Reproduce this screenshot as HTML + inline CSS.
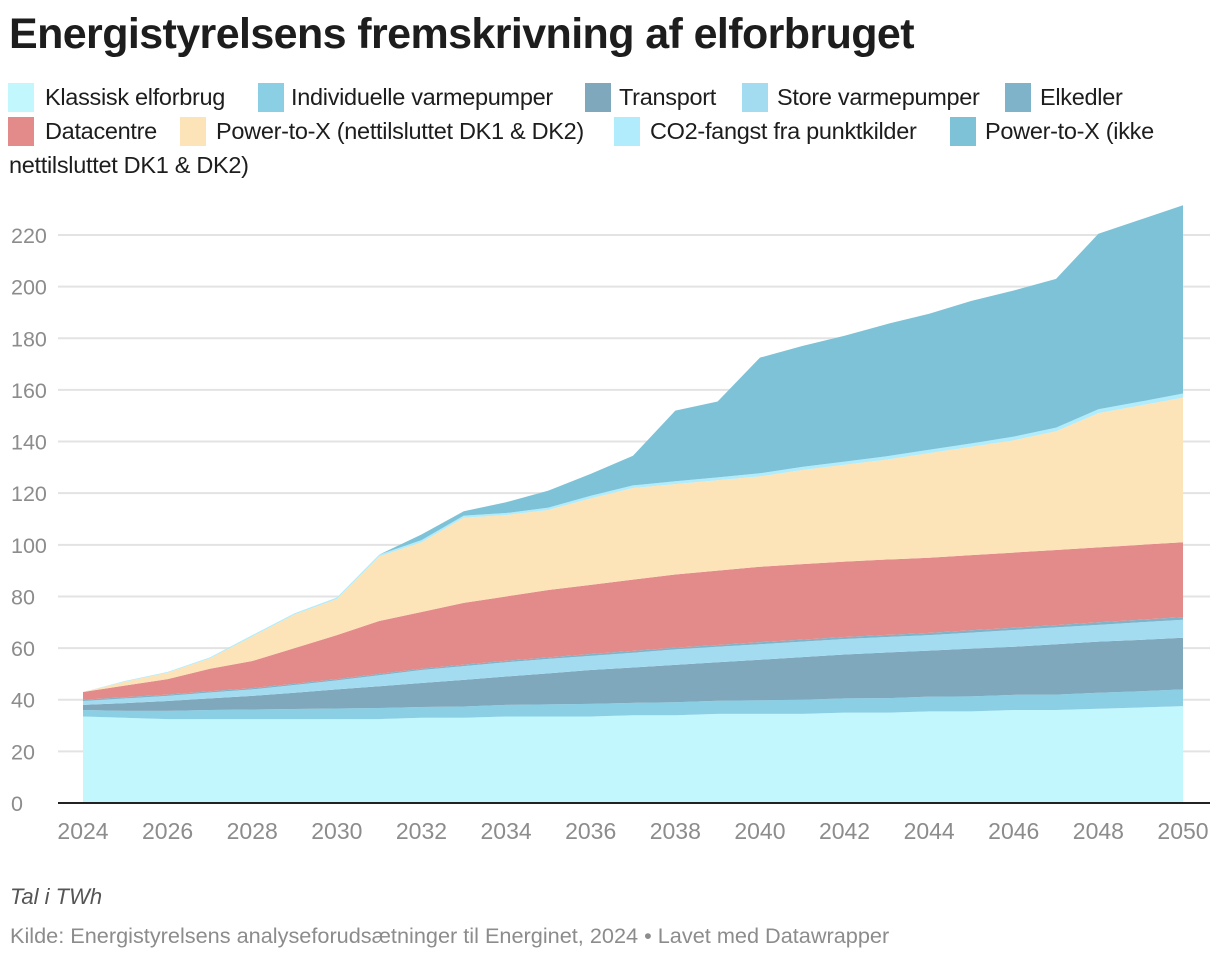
<!DOCTYPE html>
<html><head><meta charset="utf-8">
<style>
body{margin:0;background:#fff;width:1220px;height:958px;overflow:hidden;font-family:"Liberation Sans",sans-serif;color:#1d1d1d;position:relative}
.t{position:absolute;white-space:nowrap}
.sw{position:absolute;width:26px;height:29px}
.lg{position:absolute;font-size:23.5px;letter-spacing:-0.3px;white-space:nowrap;line-height:29px}
</style></head><body>
<div class="t" style="left:9px;top:10px;font-size:43px;font-weight:bold;letter-spacing:-0.6px">Energistyrelsens fremskrivning af elforbruget</div>
<div id="legend"></div>
<svg id="chart" width="1220" height="958" style="position:absolute;left:0;top:0"></svg>
<div class="t" style="left:10px;top:884px;font-size:22px;font-style:italic;color:#555">Tal i TWh</div>
<div class="t" style="left:10px;top:923px;font-size:21.7px;color:#8c8c8c">Kilde: Energistyrelsens analyseforudsætninger til Energinet, 2024 • Lavet med Datawrapper</div>
<script>
const years=[2024,2025,2026,2027,2028,2029,2030,2031,2032,2033,2034,2035,2036,2037,2038,2039,2040,2041,2042,2043,2044,2045,2046,2047,2048,2049,2050];
const seriesNames=["Klassisk elforbrug","Individuelle varmepumper","Transport","Store varmepumper","Elkedler","Datacentre","Power-to-X (nettilsluttet DK1 & DK2)","CO2-fangst fra punktkilder","Power-to-X (ikke nettilsluttet DK1 & DK2)"];
const seriesColors=["#c2f7fd","#8bcfe5","#7fa8bc","#a3dcf1","#7fb3c9","#e38b8a","#fde3b8","#b0ecfb","#7ec2d7"];
const klassisk=[33.5,33,32.5,32.5,32.5,32.5,32.5,32.5,33,33,33.5,33.5,33.5,34,34,34.5,34.5,34.5,35,35,35.5,35.5,36,36,36.5,37,37.5];
const individuelle=[2.5,2.7,3.2,3.5,3.7,3.9,4.1,4.3,4.2,4.4,4.5,4.7,4.9,4.8,5,5.1,5.3,5.5,5.5,5.6,5.7,5.8,5.9,6,6.2,6.3,6.5];
const transport=[2,3,3.8,4.5,5.3,6.3,7.4,8.4,9.3,10.3,11,12,13.1,13.7,14.5,14.9,15.7,16.5,17,17.7,17.8,18.5,18.6,19.5,19.8,19.9,20];
const storeVp=[1.5,1.8,2,2.3,2.5,3,3.5,4.3,5,5.3,5.5,5.6,5.5,5.7,6,6,6,6,6,6,6,6.2,6.5,6.5,6.5,6.8,7];
const elkedler=[0.5,0.5,0.5,0.5,0.5,0.5,0.5,0.5,0.5,0.6,0.6,0.6,0.7,0.7,0.7,0.7,0.8,0.8,0.8,0.8,0.9,0.9,0.9,0.9,1,1,1];
const datacentre=[3,4.5,6,8.7,10.5,13.8,17,20.5,22,23.9,24.9,26.1,26.8,27.6,28.3,28.8,29.2,29.2,29.2,29.2,29.1,29.1,29.1,29.1,29,29,29];
const ptxNet=[0,1.5,2.5,4,9.5,13,14,25,27,33,31.5,31,33.5,35.5,35,35,35,36.5,37.5,38.7,40.5,42,43.5,46,52,54,56];
const co2=[0,0.3,0.3,0.4,0.5,0.5,0.6,0.7,0.8,0.8,0.8,0.9,1,1,1.1,1.1,1.2,1.2,1.2,1.3,1.3,1.3,1.4,1.4,1.5,1.5,1.6];
const ptxIkke=[0,0,0,0,0,0,0,0,2.2,1.7,4.2,6.6,8.5,11.5,27.4,29.4,44.8,46.8,48.8,51.2,52.7,55.2,56.6,57.6,68,70.5,72.9];
const yTicks=[0,20,40,60,80,100,120,140,160,180,200,220];
const xTicks=[2024,2026,2028,2030,2032,2034,2036,2038,2040,2042,2044,2046,2048,2050];
const allSeries=[klassisk,individuelle,transport,storeVp,elkedler,datacentre,ptxNet,co2,ptxIkke];

const X=y=>83+(y-2024)*(1100/26);
const Y=v=>803-v*(568/220);
const NS="http://www.w3.org/2000/svg";
const svg=document.getElementById('chart');
function mk(tag,attrs){const e=document.createElementNS(NS,tag);for(const k in attrs)e.setAttribute(k,attrs[k]);svg.appendChild(e);return e;}

yTicks.forEach(v=>{
  const l=mk('line',{x1:58,x2:1210,y1:Y(v),y2:Y(v),stroke:'#e3e3e3','stroke-width':2});
  
  
  const t=mk('text',{x:11,y:Y(v)+8,'font-size':21.5,fill:'#8c8c8c','font-family':'Liberation Sans, sans-serif'});
  t.textContent=v;
  
  
});

let base=years.map(()=>0);
allSeries.forEach((s,i)=>{
  const top=base.map((b,j)=>b+s[j]);
  let d='M'+years.map((y,j)=>X(y)+','+Y(top[j])).join('L');
  for(let j=years.length-1;j>=0;j--)d+='L'+X(years[j])+','+Y(base[j]);
  const p=mk('path',{d:d+'Z',fill:seriesColors[i]});
  
  
  base=top;
});

const ax=mk('line',{x1:58,x2:1210,y1:803,y2:803,stroke:'#222','stroke-width':2});


xTicks.forEach(y=>{
  const t=mk('text',{x:X(y),y:839,'font-size':23,fill:'#8c8c8c','text-anchor':'middle','font-family':'Liberation Sans, sans-serif'});
  t.textContent=y;
  
  
});

const legendPos=[[8,83,45],[258,83,291],[585,83,619],[742,83,777],[1005,83,1040],[8,117,45],[180,117,216],[614,117,650],[950,117,985]];
const lg=document.getElementById('legend');
seriesNames.forEach((n,i)=>{
  const [sx,sy,tx]=legendPos[i];
  const sw=document.createElement('div');
  sw.className='sw';sw.style.left=sx+'px';sw.style.top=sy+'px';sw.style.background=seriesColors[i];
  
  
  lg.appendChild(sw);
  const t=document.createElement('div');
  t.className='lg';t.style.left=tx+'px';t.style.top=sy+'px';
  t.textContent=i==8?'Power-to-X (ikke':n;
  
  
  lg.appendChild(t);
});
const t2=document.createElement('div');
t2.className='lg';t2.style.left='9px';t2.style.top='151px';t2.textContent='nettilsluttet DK1 & DK2)';


lg.appendChild(t2);
</script>
</body></html>
